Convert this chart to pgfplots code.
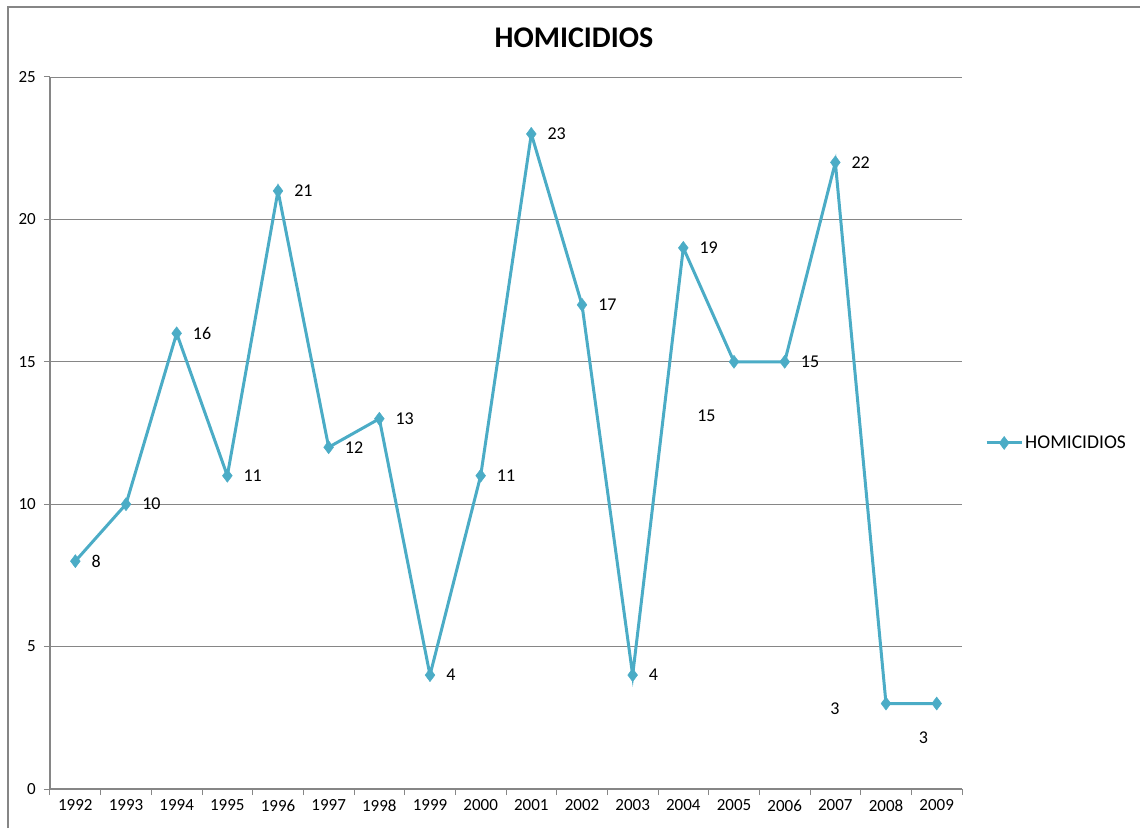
\documentclass[border=0pt]{standalone}
\usepackage{pgfplots}
\pgfplotsset{compat=1.18}
\usepackage{pgfplotstable}
\usepackage{fontspec}
\setmainfont{Carlito}
\definecolor{ser}{RGB}{75,172,198}
\definecolor{gridc}{RGB}{134,134,134}
\definecolor{axc}{RGB}{134,134,134}
\pgfplotstableread{
x y dx dy
0 8 16 0
1 10 16 0
2 16 16 0
3 11 16 0
4 21 16 0
5 12 16 0
6 13 16 0
7 4 16 0
8 11 16 0
9 23 16 0
10 17 16 0
11 4 16 0
12 19 16 0
13 15 -37 -54
14 15 16 0
15 22 16 0
16 3 -56 -5
17 3 -18 -34
}\datatable
\begin{document}
\begin{tikzpicture}[x=1pt,y=1pt]
\begin{axis}[
  at={(0pt,0pt)}, anchor=south west,
  scale only axis, width=912pt, height=712pt,
  xmin=-0.5, xmax=17.5, ymin=0, ymax=25,
  xtick={0,...,17},
  xticklabels={1992,1993,1994,1995,1996,1997,1998,1999,2000,2001,2002,2003,2004,2005,2006,2007,2008,2009},
  minor xtick={-0.5,0.5,...,17.5},
  ytick={0,5,...,25},
  tick align=outside,
  major tick length=6pt, minor tick length=6pt,
  x tick style={draw=none},
  minor x tick style={draw=axc, line width=1pt},
  y tick style={draw=axc, line width=1pt},
  ymajorgrids, grid style={gridc, line width=0.8pt},
  axis x line*=bottom, axis y line*=left,
  axis line style={axc, line width=1.5pt, -},
  tick label style={font=\fontsize{17}{19}\selectfont},
  xticklabel style={yshift=-1pt},
  yticklabel style={anchor=east, inner sep=0pt, xshift=0pt},
  yticklabel shift=8pt,
  /pgf/number format/assume math mode=true,
  clip=false,
  legend style={draw=none, fill=none, at={(1.0252,0.486)}, anchor=west,
     font=\fontsize{19.5}{22}\selectfont, inner sep=0pt,
     legend cell align=left},
  legend image code/.code={\draw[mark repeat=2,mark phase=2,#1] plot coordinates {(0pt,0pt) (17.5pt,0pt) (35pt,0pt)};},
]
\addplot[color=ser, line width=3pt, mark=diamond*, mark size=6.5pt,
  mark options={fill=ser, line width=0.5pt},
  visualization depends on={\thisrow{dx}\as\dx},
  visualization depends on={\thisrow{dy}\as\dy},
  nodes near coords,
  every node near coord/.append style={anchor=west, inner sep=0pt, text=black,
     font=\fontsize{18}{20}\selectfont, xshift=\dx pt, yshift=\dy pt},
] table[x=x,y=y] {\datatable};
\addlegendentry{HOMICIDIOS}
\end{axis}
% title
\node[font=\bfseries\fontsize{30}{34}\selectfont, anchor=center] at (524,751) {HOMICIDIOS};
% outer frame (top & left)
\draw[axc, line width=1.2pt] (-42,-39) -- (-42,782) -- (1090,782);
\pgfresetboundingbox
\useasboundingbox (-50,-39) rectangle (1090,789);
\end{tikzpicture}
\end{document}
